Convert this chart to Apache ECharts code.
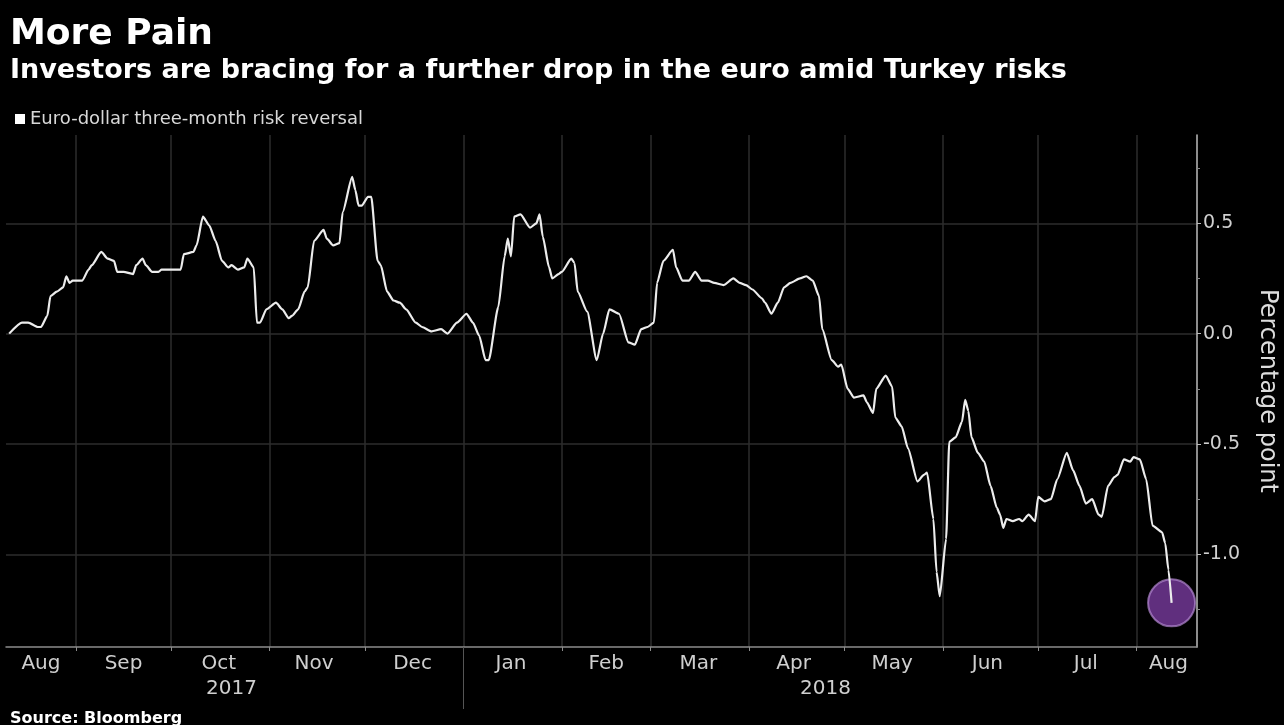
<!DOCTYPE html>
<html>
<head>
<meta charset="utf-8">
<script src="https://cdn.jsdelivr.net/npm/echarts@6/dist/echarts.min.js"></script>
<style>
  html, body { margin: 0; padding: 0; background: #000; }
  #chart { width: 1284px; height: 725px; }
</style>
</head>
<body>
<div id="chart"></div>
<script>
  var seriesName = 'Euro-dollar three-month risk reversal'

  var dates = [
    '2017-08-11','2017-08-15','2017-08-17','2017-08-20','2017-08-21','2017-08-23','2017-08-24','2017-08-26','2017-08-28','2017-08-29',
    '2017-08-30','2017-08-31','2017-09-03','2017-09-05','2017-09-06','2017-09-09','2017-09-11','2017-09-13','2017-09-14','2017-09-16',
    '2017-09-19','2017-09-20','2017-09-22','2017-09-23','2017-09-25','2017-09-27','2017-09-28','2017-10-04','2017-10-05','2017-10-08',
    '2017-10-09','2017-10-11','2017-10-13','2017-10-15','2017-10-17','2017-10-19','2017-10-20','2017-10-22','2017-10-24','2017-10-25',
    '2017-10-27','2017-10-28','2017-10-29','2017-10-31','2017-11-03','2017-11-05','2017-11-07','2017-11-08','2017-11-10','2017-11-12',
    '2017-11-13','2017-11-15','2017-11-18','2017-11-19','2017-11-21','2017-11-23','2017-11-24','2017-11-27','2017-11-28','2017-11-29',
    '2017-11-30','2017-12-02','2017-12-03','2017-12-05','2017-12-06','2017-12-08','2017-12-10','2017-12-12','2017-12-14','2017-12-17',
    '2017-12-19','2017-12-22','2017-12-25','2017-12-27','2017-12-30','2018-01-02','2018-01-04','2018-01-06','2018-01-08','2018-01-09',
    '2018-01-12','2018-01-14','2018-01-15','2018-01-16','2018-01-17','2018-01-19','2018-01-22','2018-01-24','2018-01-25','2018-01-26',
    '2018-01-28','2018-01-29','2018-01-31','2018-02-01','2018-02-04','2018-02-05','2018-02-06','2018-02-09','2018-02-12','2018-02-14',
    '2018-02-16','2018-02-19','2018-02-22','2018-02-24','2018-02-26','2018-02-28','2018-03-02','2018-03-03','2018-03-05','2018-03-08',
    '2018-03-09','2018-03-11','2018-03-13','2018-03-15','2018-03-17','2018-03-19','2018-03-21','2018-03-24','2018-03-27','2018-03-29',
    '2018-03-31','2018-04-02','2018-04-05','2018-04-06','2018-04-08','2018-04-10','2018-04-12','2018-04-14','2018-04-17','2018-04-19',
    '2018-04-21','2018-04-23','2018-04-24','2018-04-27','2018-04-29','2018-04-30','2018-05-02','2018-05-04','2018-05-07','2018-05-08',
    '2018-05-10','2018-05-11','2018-05-14','2018-05-16','2018-05-17','2018-05-19','2018-05-21','2018-05-24','2018-05-26','2018-05-27',
    '2018-05-29','2018-05-30','2018-05-31','2018-06-02','2018-06-03','2018-06-05','2018-06-07','2018-06-08','2018-06-09','2018-06-10',
    '2018-06-12','2018-06-14','2018-06-16','2018-06-18','2018-06-19','2018-06-20','2018-06-21','2018-06-23','2018-06-25','2018-06-26',
    '2018-06-28','2018-06-30','2018-07-01','2018-07-03','2018-07-05','2018-07-07','2018-07-10','2018-07-12','2018-07-14','2018-07-16',
    '2018-07-18','2018-07-20','2018-07-21','2018-07-23','2018-07-25','2018-07-26','2018-07-28','2018-07-30','2018-07-31','2018-08-02',
    '2018-08-04','2018-08-06','2018-08-09','2018-08-10','2018-08-11','2018-08-12'
  ]
  var values = [
    0.00, 0.05, 0.05, 0.03, 0.03, 0.08, 0.17, 0.19, 0.21, 0.26,
    0.23, 0.24, 0.24, 0.29, 0.31, 0.37, 0.34, 0.33, 0.28, 0.28,
    0.27, 0.31, 0.34, 0.31, 0.28, 0.28, 0.29, 0.29, 0.36, 0.37,
    0.40, 0.53, 0.49, 0.42, 0.33, 0.30, 0.31, 0.29, 0.30, 0.34,
    0.30, 0.05, 0.05, 0.11, 0.14, 0.11, 0.07, 0.08, 0.11, 0.19,
    0.21, 0.42, 0.47, 0.43, 0.40, 0.41, 0.55, 0.71, 0.65, 0.58,
    0.58, 0.62, 0.62, 0.33, 0.31, 0.19, 0.15, 0.14, 0.11, 0.05,
    0.03, 0.01, 0.02, 0.00, 0.05, 0.09, 0.05, -0.01, -0.12, -0.12,
    0.12, 0.35, 0.43, 0.35, 0.53, 0.54, 0.48, 0.50, 0.54, 0.44,
    0.30, 0.25, 0.27, 0.28, 0.34, 0.32, 0.19, 0.10, -0.12, 0.00,
    0.11, 0.09, -0.04, -0.05, 0.02, 0.03, 0.05, 0.23, 0.33, 0.38,
    0.30, 0.24, 0.24, 0.28, 0.24, 0.24, 0.23, 0.22, 0.25, 0.23,
    0.22, 0.20, 0.16, 0.14, 0.09, 0.14, 0.21, 0.23, 0.25, 0.26,
    0.24, 0.17, 0.02, -0.12, -0.15, -0.14, -0.25, -0.29, -0.28, -0.31,
    -0.36, -0.25, -0.19, -0.24, -0.38, -0.42, -0.52, -0.67, -0.64, -0.63,
    -0.84, -1.08, -1.19, -0.93, -0.49, -0.47, -0.40, -0.30, -0.35, -0.47,
    -0.54, -0.58, -0.69, -0.79, -0.82, -0.88, -0.84, -0.85, -0.84, -0.85,
    -0.82, -0.85, -0.74, -0.76, -0.75, -0.66, -0.54, -0.62, -0.69, -0.77,
    -0.75, -0.82, -0.83, -0.69, -0.65, -0.64, -0.57, -0.58, -0.56, -0.57,
    -0.66, -0.87, -0.90, -0.95, -1.07, -1.22
  ]

  var axisStart = '2017-08-10'
  var axisEnd = '2018-08-20'
  var monthStarts = ['2017-09-01','2017-10-01','2017-11-01','2017-12-01','2018-01-01','2018-02-01',
    '2018-03-01','2018-04-01','2018-05-01','2018-06-01','2018-07-01','2018-08-01']
  var monthLabelDates = ['2017-08-21','2017-09-16','2017-10-16','2017-11-15','2017-12-16','2018-01-16',
    '2018-02-15','2018-03-16','2018-04-15','2018-05-16','2018-06-15','2018-07-16','2018-08-11']
  var monthLabels = ['Aug','Sep','Oct','Nov','Dec','Jan','Feb','Mar','Apr','May','Jun','Jul','Aug']
  var yearLabelDates = ['2017-10-20','2018-04-25']
  var yearLabels = ['2017','2018']
  var yearBreak = ['2018-01-01']
  var yTicks = [-1, -0.5, 0, 0.5]
  var yMinorTicks = [-1.25, -0.75, -0.25, 0.25, 0.75]

  var fontName = 'DejaVu Sans'

  function ts(d){
    return echarts.time.parse(d).getTime()
  }
  function labelFrom(dateList, labelList){
    var stamps = dateList.map(ts)
    return function(v){
      var i = stamps.indexOf(v)
      return i < 0 ? '' : labelList[i]
    }
  }

  var lineData = dates.map(function(d, i){ return [ts(d), values[i]] })
  var last = dates.length - 1

  var myChart = echarts.init(document.getElementById('chart'))
  var chartOption = {
    backgroundColor: '#000',
    animation: false,
    title: [
      {
        text: 'More Pain', left: 5, top: 12,
        textStyle: {color: '#fff', fontSize: 36, fontWeight: 'bold', fontFamily: fontName}
      },
      {
        text: 'Investors are bracing for a further drop in the euro amid Turkey risks', left: 5, top: 52,
        textStyle: {color: '#fff', fontSize: 27, fontWeight: 'bold', fontFamily: fontName}
      },
      {
        text: 'Source: Bloomberg', left: 5, top: 706,
        textStyle: {color: '#fff', fontSize: 16, fontWeight: 'bold', fontFamily: fontName}
      }
    ],
    legend: {
      data: [seriesName],
      left: 10, top: 105,
      icon: 'rect', itemWidth: 10, itemHeight: 10,
      textStyle: {color: '#d8d8d8', fontSize: 18, fontFamily: fontName}
    },
    grid: {left: 6, right: 87, top: 135, bottom: 78, containLabel: false, outerBoundsMode: 'none'},
    xAxis: [
      {
        type: 'value', position: 'bottom',
        min: ts(axisStart), max: ts(axisEnd),
        axisLine: {onZero: false, lineStyle: {color: '#8c8c8c', width: 1.5}},
        axisTick: {show: true, customValues: monthStarts.map(ts), length: 4, lineStyle: {color: '#8c8c8c'}},
        splitLine: {show: true, lineStyle: {color: '#2c2c2c', width: 1.5}},
        axisLabel: {
          customValues: monthLabelDates.map(ts), formatter: labelFrom(monthLabelDates, monthLabels),
          color: '#cfcfcf', fontSize: 20, margin: 7, fontFamily: fontName
        }
      },
      {
        type: 'value', position: 'bottom',
        min: ts(axisStart), max: ts(axisEnd),
        axisLine: {show: false, onZero: false},
        axisTick: {show: true, customValues: yearBreak.map(ts), length: 62, lineStyle: {color: '#555'}},
        splitLine: {show: false},
        axisLabel: {
          customValues: yearLabelDates.map(ts), formatter: labelFrom(yearLabelDates, yearLabels),
          color: '#cfcfcf', fontSize: 20, margin: 32, fontFamily: fontName
        }
      }
    ],
    yAxis: [
      {
        type: 'value', position: 'right',
        min: -1.42, max: 0.9,
        axisLine: {show: true, onZero: false, lineStyle: {color: '#bdbdbd', width: 1.5}},
        axisTick: {show: true, customValues: yTicks, length: 4, lineStyle: {color: '#bdbdbd'}},
        axisLabel: {
          customValues: yTicks, formatter: function(v){ return v.toFixed(1) },
          color: '#d0d0d0', fontSize: 19, margin: 6, fontFamily: fontName
        },
        splitLine: {show: true, lineStyle: {color: '#2c2c2c', width: 1.5}},
        name: 'Percentage point', nameLocation: 'middle', nameRotate: -90, nameGap: 58,
        nameTextStyle: {color: '#dcdcdc', fontSize: 24, fontFamily: fontName}
      },
      {
        type: 'value', position: 'right',
        min: -1.42, max: 0.9,
        axisLine: {show: false, onZero: false},
        axisTick: {show: true, customValues: yMinorTicks, length: 3, lineStyle: {color: '#888'}},
        axisLabel: {show: false},
        splitLine: {show: false}
      }
    ],
    series: [
      {
        name: seriesName,
        type: 'line',
        xAxisIndex: 0, yAxisIndex: 0,
        data: lineData,
        showSymbol: false,
        smooth: 0.2,
        smoothMonotone: 'x',
        z: 3,
        itemStyle: {color: '#ffffff'},
        lineStyle: {color: '#ececec', width: 2.2}
      },
      {
        name: 'latest',
        type: 'scatter',
        xAxisIndex: 0, yAxisIndex: 0,
        data: [lineData[last]],
        symbolSize: 47,
        silent: true,
        z: 2,
        itemStyle: {color: 'rgba(126,62,166,0.95)', borderColor: 'rgba(185,140,215,0.85)', borderWidth: 2}
      }
    ]
  }
  myChart.setOption(chartOption)
</script>
</body>
</html>
